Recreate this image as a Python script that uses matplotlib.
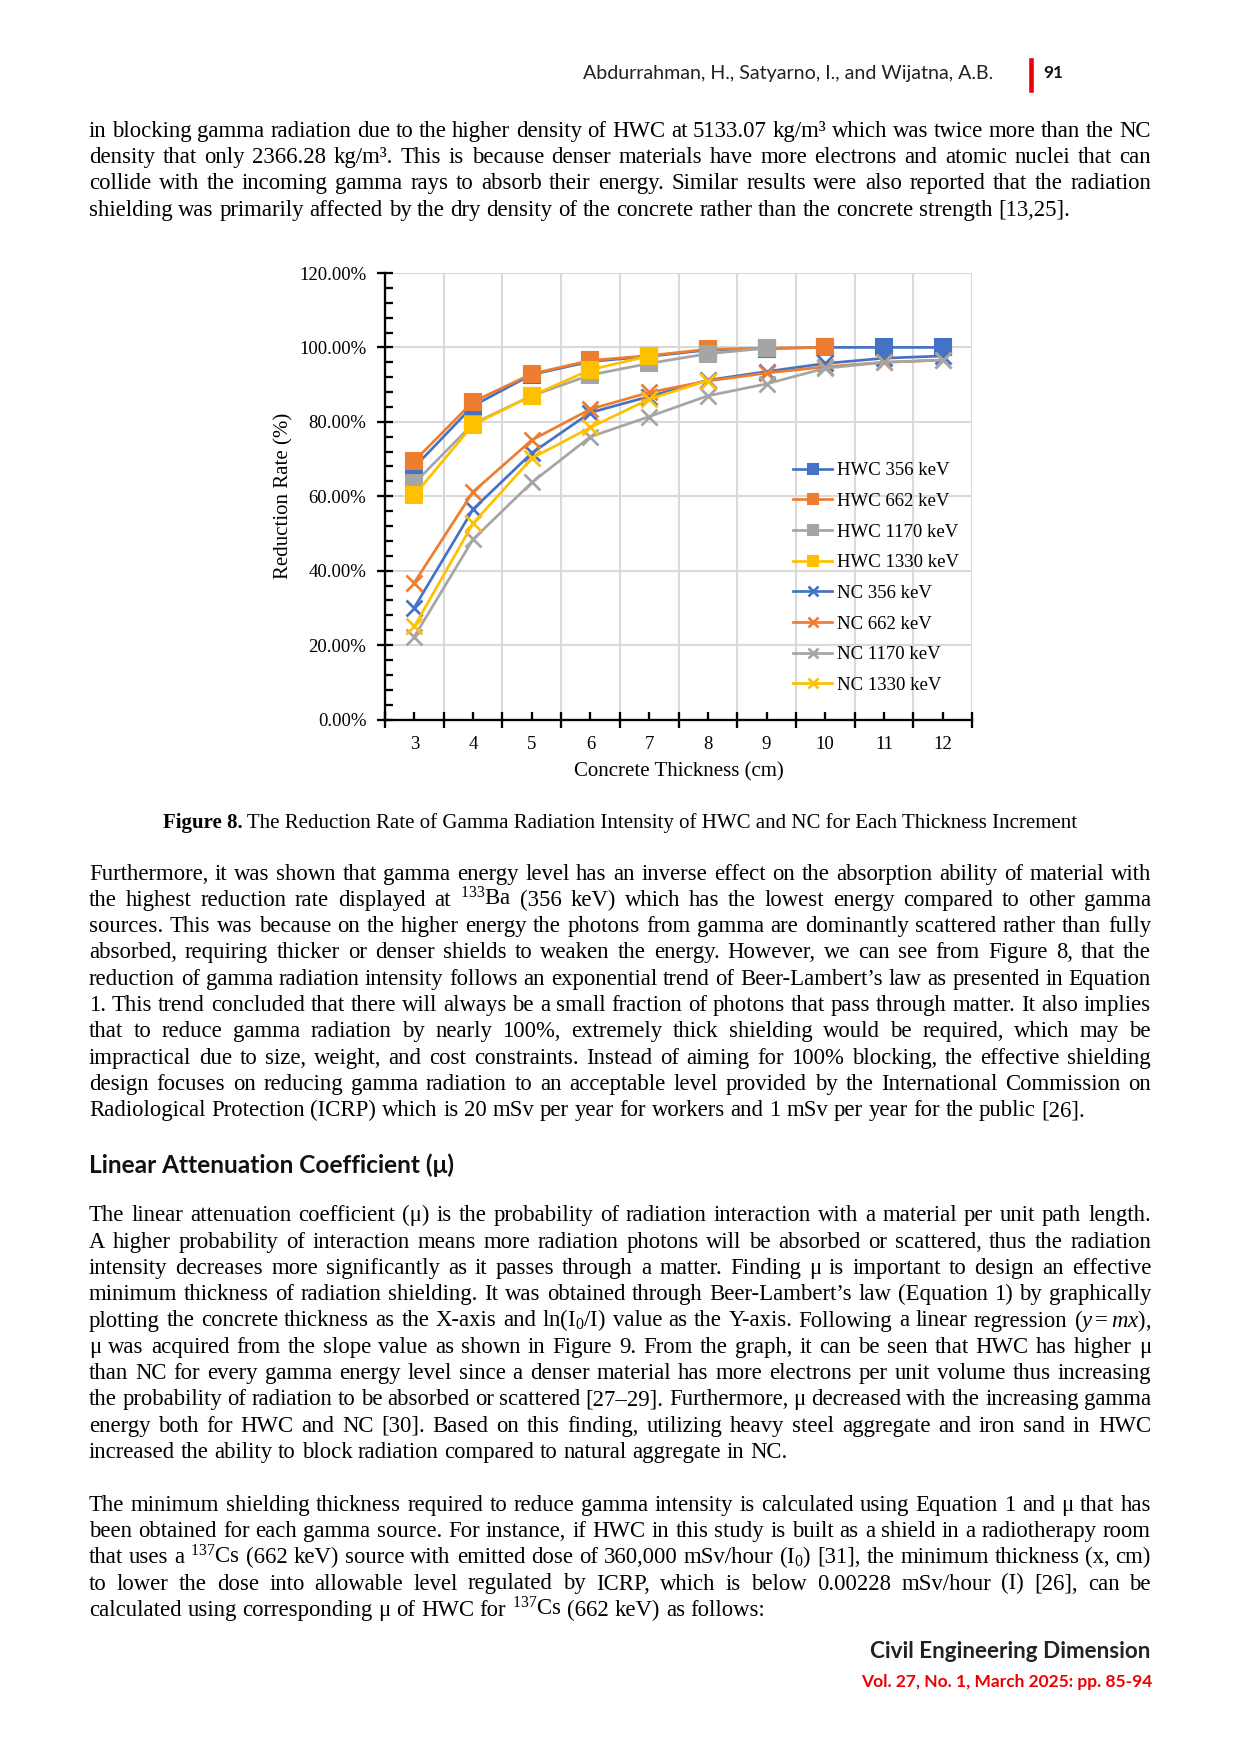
import numpy as np
import matplotlib
matplotlib.use("Agg")
import matplotlib.pyplot as plt
from matplotlib.ticker import MultipleLocator

nan = np.nan

# data (reduction rate, %)
thickness = [3, 4, 5, 6, 7, 8, 9, 10, 11, 12]
hwc_356 = [67.8, 84.3, 92.7, 96.2, 97.6, 99.3, 99.7, 100.0, 100.0, 100.0]
hwc_662 = [69.5, 85.4, 92.9, 96.5, 97.8, 99.5, 99.8, 100.0, nan, nan]
hwc_1170 = [63.5, 79.5, 87.0, 92.6, 95.7, 98.3, 99.8, nan, nan, nan]
hwc_1330 = [60.3, 79.2, 87.0, 94.0, 97.7, nan, nan, nan, nan, nan]
nc_356 = [30.1, 56.5, 71.6, 82.5, 86.8, 91.2, 93.5, 95.7, 97.1, 97.7]
nc_662 = [36.8, 61.2, 75.1, 83.4, 87.9, 91.0, 93.1, 94.8, 96.0, 96.6]
nc_1170 = [22.3, 48.4, 63.7, 76.0, 81.4, 87.0, 90.2, 94.4, 96.0, 96.6]
nc_1330 = [25.0, 52.7, 70.2, 78.5, 86.1, 91.1, nan, nan, nan, nan]

labels = ["HWC 356 keV", "HWC 662 keV", "HWC 1170 keV", "HWC 1330 keV",
          "NC 356 keV", "NC 662 keV", "NC 1170 keV", "NC 1330 keV"]
yticks = [0, 20, 40, 60, 80, 100, 120]

colors = ["#4472C4", "#ED7D31", "#A5A5A5", "#FFC000"]

plt.rcParams["mathtext.fontset"] = "custom"
plt.rcParams["mathtext.rm"] = "Liberation Serif"
plt.rcParams["mathtext.it"] = "Liberation Serif:italic"
plt.rcParams["mathtext.bf"] = "Liberation Serif:bold"

W, H = 1240, 1754
fig = plt.figure(figsize=(W / 150, H / 150), dpi=150)
renderer = fig.canvas.get_renderer()
SERIF = "Liberation Serif"
SANS = "Lato"
BODY = 10.9


def fx(x):
    return x / W


def fy(y):
    return 1 - y / H


# ---------------- chart ----------------
ax = fig.add_axes([fx(385), fy(719.5), (972 - 385) / W, (719.5 - 273) / H])
all_series = [hwc_356, hwc_662, hwc_1170, hwc_1330, nc_356, nc_662, nc_1170, nc_1330]
for i, vals in enumerate(all_series):
    c = colors[i % 4]
    if i < 4:
        ax.plot(thickness, vals, color=c, lw=1.3, marker="s", ms=7.5,
                mec=c, mfc=c, label=labels[i])
    else:
        ax.plot(thickness, vals, color=c, lw=1.3, marker="x", ms=7.5,
                mew=1.3, label=labels[i])

bounds = [t - 0.5 for t in thickness] + [thickness[-1] + 0.5]
ax.set_xlim(bounds[0], bounds[-1])
ax.set_ylim(0, 120)
ax.set_xticks(bounds)
ax.set_xticklabels([])
ax.set_xticks(thickness, minor=True)
ax.set_xticklabels([str(t) for t in thickness], minor=True, family=SERIF, fontsize=9)
ax.set_yticks(yticks)
ax.set_yticklabels(["%.2f%%" % v for v in yticks], family=SERIF, fontsize=9)
ax.yaxis.set_minor_locator(MultipleLocator(4))
ax.tick_params(axis="both", which="major", direction="inout", length=8, width=1.1)
ax.tick_params(axis="both", which="minor", direction="in", length=4, width=1.1)
ax.tick_params(axis="x", which="minor", pad=8)
ax.tick_params(axis="y", which="major", pad=5)
ax.grid(True, which="major", color="#d9d9d9", lw=1.0)
ax.set_axisbelow(True)
for s in ["top", "right"]:
    ax.spines[s].set_visible(False)
for s in ["left", "bottom"]:
    ax.spines[s].set_linewidth(1.1)

ax.set_xlabel("Concrete Thickness (cm)", family=SERIF, fontsize=10, va="center")
ax.xaxis.set_label_coords(0.5, (719.5 - 772) / 446.5)
ax.set_ylabel("Reduction Rate (%)", family=SERIF, fontsize=10, va="center")
ax.yaxis.set_label_coords((284 - 385) / 587, 0.5)

ax.legend(loc="center left", bbox_to_anchor=(fx(793), fy(578)), bbox_transform=fig.transFigure,
          frameon=False, prop={"family": SERIF, "size": 9}, handlelength=2.1, markerscale=0.7,
          handletextpad=0.25, labelspacing=0.72, borderpad=0, borderaxespad=0)


# ---------------- page text ----------------
def width_of(t):
    return t.get_window_extent(renderer).width


def put_line(s, yc, justify=True, size=BODY, x0=89, x1=1151):
    words = s.split()
    texts = [fig.text(0, 0, w, family=SERIF, fontsize=size, va="baseline", ha="left")
             for w in words]
    ws = [width_of(t) for t in texts]
    if justify and len(words) > 1:
        gap = (x1 - x0 - sum(ws)) / (len(words) - 1)
    else:
        gap = 0.25 * size * 150 / 72
    x = x0
    for t, w in zip(texts, ws):
        t.set_position((fx(x), fy(yc + 6)))
        x += w + gap


def paragraph(lines, y0, step=26.3):
    for i, s in enumerate(lines):
        put_line(s, y0 + i * step, justify=(i < len(lines) - 1))


def fitted(s, x, yc, target, ha="left", **kw):
    t = fig.text(fx(x), fy(yc), s, fontsize=10, ha=ha, va="center", **kw)
    t.set_fontsize(10 * target / width_of(t))
    return t


par1 = [
    "in blocking gamma radiation due to the higher density of HWC at 5133.07 kg/m\u00b3 which was twice more than the NC",
    "density that only 2366.28 kg/m\u00b3. This is because denser materials have more electrons and atomic nuclei that can",
    "collide with the incoming gamma rays to absorb their energy. Similar results were also reported that the radiation",
    "shielding was primarily affected by the dry density of the concrete rather than the concrete strength [13,25].",
]
par2 = [
    "Furthermore, it was shown that gamma energy level has an inverse effect on the absorption ability of material with",
    "the highest reduction rate displayed at $^{133}$Ba (356 keV) which has the lowest energy compared to other gamma",
    "sources. This was because on the higher energy the photons from gamma are dominantly scattered rather than fully",
    "absorbed, requiring thicker or denser shields to weaken the energy. However, we can see from Figure 8, that the",
    "reduction of gamma radiation intensity follows an exponential trend of Beer-Lambert\u2019s law as presented in Equation",
    "1. This trend concluded that there will always be a small fraction of photons that pass through matter. It also implies",
    "that to reduce gamma radiation by nearly 100%, extremely thick shielding would be required, which may be",
    "impractical due to size, weight, and cost constraints. Instead of aiming for 100% blocking, the effective shielding",
    "design focuses on reducing gamma radiation to an acceptable level provided by the International Commission on",
    "Radiological Protection (ICRP) which is 20 mSv per year for workers and 1 mSv per year for the public [26].",
]
par3 = [
    "The linear attenuation coefficient (\u03bc) is the probability of radiation interaction with a material per unit path length.",
    "A higher probability of interaction means more radiation photons will be absorbed or scattered, thus the radiation",
    "intensity decreases more significantly as it passes through a matter. Finding \u03bc is important to design an effective",
    "minimum thickness of radiation shielding. It was obtained through Beer-Lambert\u2019s law (Equation 1) by graphically",
    "plotting the concrete thickness as the X-axis and ln(I$_0$/I) value as the Y-axis. Following a linear regression ($y=mx$),",
    "\u03bc was acquired from the slope value as shown in Figure 9. From the graph, it can be seen that HWC has higher \u03bc",
    "than NC for every gamma energy level since a denser material has more electrons per unit volume thus increasing",
    "the probability of radiation to be absorbed or scattered [27\u201329]. Furthermore, \u03bc decreased with the increasing gamma",
    "energy both for HWC and NC [30]. Based on this finding, utilizing heavy steel aggregate and iron sand in HWC",
    "increased the ability to block radiation compared to natural aggregate in NC.",
]
par4 = [
    "The minimum shielding thickness required to reduce gamma intensity is calculated using Equation 1 and \u03bc that has",
    "been obtained for each gamma source. For instance, if HWC in this study is built as a shield in a radiotherapy room",
    "that uses a $^{137}$Cs (662 keV) source with emitted dose of 360,000 mSv/hour (I$_0$) [31], the minimum thickness (x, cm)",
    "to lower the dose into allowable level regulated by ICRP, which is below 0.00228 mSv/hour (I) [26],  can be",
    "calculated using corresponding \u03bc of HWC for $^{137}$Cs (662 keV) as follows:",
]

paragraph(par1, 130.7)
paragraph(par2, 873.5)
paragraph(par3, 1215.3)
paragraph(par4, 1504.6)

# caption
cap_b = fig.text(0, 0, "Figure 8.", family=SERIF, fontsize=10, weight="bold", va="baseline")
cap_r = fig.text(0, 0, " The Reduction Rate of Gamma Radiation Intensity of HWC and NC for Each Thickness Increment",
                 family=SERIF, fontsize=10, va="baseline")
wb, wr = width_of(cap_b), width_of(cap_r)
cx = 620 - (wb + wr) / 2
cap_b.set_position((fx(cx), fy(828)))
cap_r.set_position((fx(cx + wb), fy(828)))

# heading
fitted("Linear Attenuation Coefficient (\u03bc)", 89, 1165, 366, family=SANS, weight="bold", color="#111111")

# running header
fitted("Abdurrahman, H., Satyarno, I., and Wijatna, A.B.", 993, 73, 411, ha="right",
       family=SANS, color="#222222")
fig.add_artist(plt.Line2D([fx(1031), fx(1031)], [fy(60), fy(90)], color="#e8000b", lw=2.2))
fitted("91", 1043, 73, 20, family=SANS, weight="bold", color="#111111")

# footer
fitted("Civil Engineering Dimension", 1150, 1652, 282, ha="right", family=SANS, weight="bold",
       color="#222222")
fitted("Vol. 27, No. 1, March 2025: pp. 85-94", 1152, 1682, 292, ha="right", family=SANS,
       weight="bold", color="#ee0000")

fig.savefig("out.png", dpi=150)
